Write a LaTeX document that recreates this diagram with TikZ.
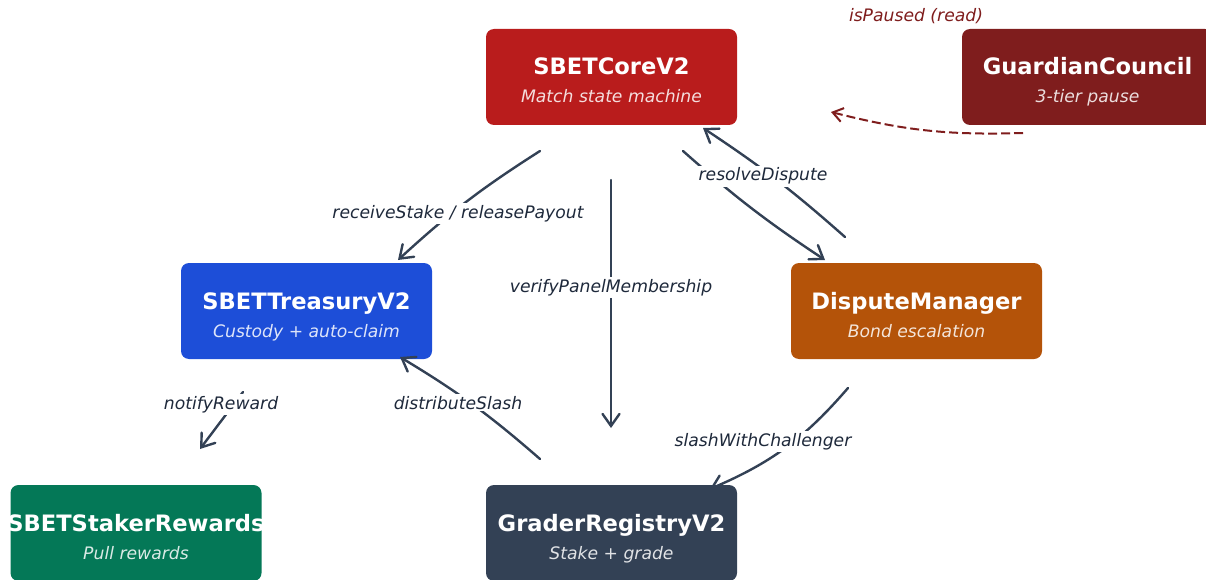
\documentclass[tikz,border=0pt]{standalone}
\usepackage{fontspec}
\setmainfont{DejaVu Sans}
\usetikzlibrary{arrows.meta}

\definecolor{corered}{HTML}{B91C1C}
\definecolor{guardred}{HTML}{7F1D1D}
\definecolor{treasblue}{HTML}{1D4ED8}
\definecolor{disporange}{HTML}{B45309}
\definecolor{stakegreen}{HTML}{047857}
\definecolor{slate}{HTML}{334155}
\definecolor{labelink}{HTML}{1E293B}

\tikzset{
  box/.style={rounded corners=8pt, minimum width=251pt, minimum height=96pt, inner sep=0pt},
  title/.style={anchor=base, text=white, inner sep=0pt,
    font=\fontsize{22.6}{27}\selectfont\bfseries},
  subtitle/.style={anchor=base, text=white, text opacity=0.85, inner sep=0pt,
    font=\fontsize{17.2}{20}\selectfont\itshape},
  flow/.style={draw=slate, line width=2.4pt, line cap=round,
    -{Straight Barb[length=12pt,width=17pt,line cap=round]}},
  pauseflow/.style={draw=guardred, line width=2pt, dash pattern=on 9pt off 4pt,
    -{Straight Barb[length=10pt,width=14pt]}},
  elabel/.style={anchor=base, fill=white, text=labelink, inner sep=2pt,
    font=\fontsize{17.2}{20}\selectfont\itshape},
}

\begin{document}
\begin{tikzpicture}[x=1pt,y=-1pt]
\useasboundingbox (0,0) rectangle (1206,580);
\clip (0,0) rectangle (1206,580);

% contract boxes
\node[box, fill=corered]    (core)  at (611.5,77)  {};
\node[box, fill=guardred]   (guard) at (1087.5,77) {};
\node[box, fill=treasblue]  (treas) at (306.5,311) {};
\node[box, fill=disporange] (disp)  at (916.5,311) {};
\node[box, fill=stakegreen] (stake) at (136,533)   {};
\node[box, fill=slate]      (grad)  at (611.5,533) {};

% box captions
\node[title] (core-t)  at (611.5,75)  {SBETCoreV2};
\node[subtitle] (core-s) at (611.5,103) {Match state machine};
\node[title] (guard-t) at (1087.5,75) {GuardianCouncil};
\node[subtitle] (guard-s) at (1087.5,103) {3-tier pause};
\node[title] (treas-t) at (306.5,309) {SBETTreasuryV2};
\node[subtitle] (treas-s) at (306.5,337) {Custody + auto-claim};
\node[title] (disp-t)  at (916.5,309) {DisputeManager};
\node[subtitle] (disp-s) at (916.5,337) {Bond escalation};
\node[title] (stake-t) at (136,531) {SBETStakerRewards};
\node[subtitle] (stake-s) at (136,559) {Pull rewards};
\node[title] (grad-t)  at (611.5,531) {GraderRegistryV2};
\node[subtitle] (grad-s) at (611.5,559) {Stake + grade};

% connector end points
\coordinate (c2t-a) at (540,151);  \coordinate (c2t-b) at (398,260);
\coordinate (c2g-a) at (611,180);  \coordinate (c2g-b) at (611,428);
\coordinate (c2d-a) at (683,151);  \coordinate (c2d-b) at (825,260);
\coordinate (d2c-a) at (845,237);  \coordinate (d2c-b) at (703,128);
\coordinate (d2g-a) at (848,388);  \coordinate (d2g-b) at (710,489);
\coordinate (g2t-a) at (540,459);  \coordinate (g2t-b) at (400,357);
\coordinate (t2s-a) at (243,392);  \coordinate (t2s-b) at (200,449);
\coordinate (gc2c-a) at (1023,133); \coordinate (gc2c-b) at (831,112);

% connectors
\draw[flow] (c2t-a) to[bend right=5] (c2t-b);
\draw[flow] (c2g-a) -- (c2g-b);
\draw[flow] (c2d-a) to[bend right=4] (c2d-b);
\draw[flow] (d2c-a) to[bend right=4] (d2c-b);
\draw[flow] (d2g-a) to[bend left=13] (d2g-b);
\draw[flow] (g2t-a) to[bend right=5] (g2t-b);
\draw[flow] (t2s-a) -- (t2s-b);
\draw[pauseflow] (gc2c-a) to[bend left=8] (gc2c-b);

% connector labels
\node[elabel] (l-c2t) at (458,218) {receiveStake / releasePayout};
\node[elabel] (l-c2g) at (611,292) {verifyPanelMembership};
\node[elabel] (l-d2c) at (763,181) {resolveDispute};
\node[elabel] (l-d2g) at (763,446) {slashWithChallenger};
\node[elabel] (l-g2t) at (458,409) {distributeSlash};
\node[elabel] (l-t2s) at (221,409) {notifyReward};
\node[elabel, text=guardred] (l-gc2c) at (916,22) {isPaused (read)};
\end{tikzpicture}
\end{document}
